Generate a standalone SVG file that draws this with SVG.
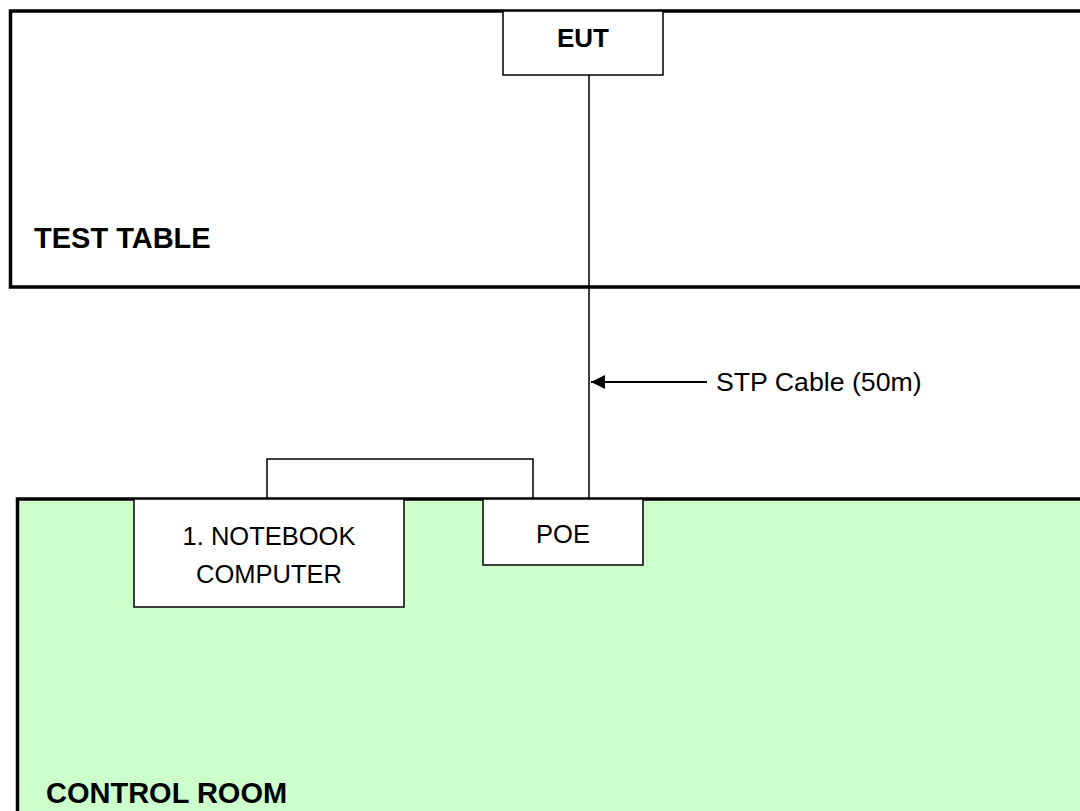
<svg xmlns="http://www.w3.org/2000/svg" width="1080" height="811" viewBox="0 0 1080 811">
<defs>
<style>
.area{stroke:#000;stroke-width:3.5}
.box{fill:#fff;stroke:#000;stroke-width:1.5}
.wire{fill:none;stroke:#000;stroke-width:1.5}
.t{font-family:"Liberation Sans",Arial,sans-serif;fill:#000}
.b{font-weight:bold}
.c{text-anchor:middle}
</style>
<marker id="ah" viewBox="0 0 10 10" refX="10" refY="5" markerWidth="14" markerHeight="16" markerUnits="userSpaceOnUse" orient="auto">
<path d="M0,0 L10,5 L0,10 Z" fill="#000"/>
</marker>
</defs>
<rect width="1080" height="811" fill="#fff"/>
<g id="test-table">
<rect class="area" x="10.5" y="11" width="1100" height="276" fill="#fff"/>
<text class="t b" x="34" y="248" font-size="29">TEST TABLE</text>
</g>
<g id="control-room">
<rect class="area" x="17.5" y="499" width="1100" height="340" fill="#CCFFCC"/>
<text class="t b" x="46" y="803" font-size="29">CONTROL ROOM</text>
</g>
<g id="connectors">
<line class="wire" x1="589" y1="75" x2="589" y2="499"/>
<polyline class="wire" points="267,499 267,459 533,459 533,499"/>
<line class="wire" x1="707" y1="382" x2="591" y2="382" marker-end="url(#ah)" style="stroke-width:2"/>
<text class="t" x="716" y="391" font-size="26.7">STP Cable (50m)</text>
</g>
<g id="eut">
<rect class="box" x="503" y="11" width="160" height="64"/>
<text class="t b c" x="583" y="47" font-size="26">EUT</text>
</g>
<g id="notebook">
<rect class="box" x="134" y="499" width="270" height="108"/>
<text class="t c" x="269" y="545" font-size="25.5">1. NOTEBOOK</text>
<text class="t c" x="269" y="583" font-size="25.5">COMPUTER</text>
</g>
<g id="poe">
<rect class="box" x="483" y="499" width="160" height="66"/>
<text class="t c" x="563" y="543" font-size="25.5">POE</text>
</g>
</svg>
